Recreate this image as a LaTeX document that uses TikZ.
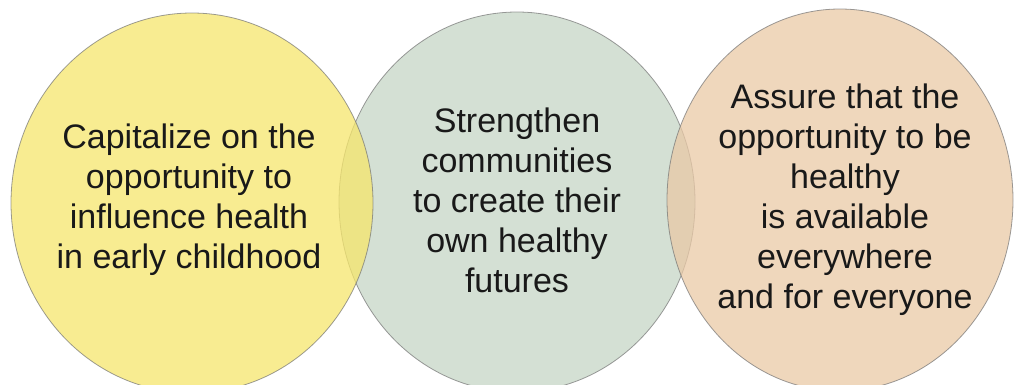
\documentclass[tikz,border=0pt]{standalone}
\usepackage{fontspec}
\setmainfont{Liberation Sans}
\usetikzlibrary{shapes.geometric}

\definecolor{earlyfill}{RGB}{246,230,108}
\definecolor{commfill}{RGB}{197,213,197}
\definecolor{equityfill}{RGB}{233,201,166}

\tikzset{
  goal/.style={ellipse, draw=black!55, draw opacity=0.7, line width=0.8pt,
    fill opacity=0.75, inner sep=0pt, outer sep=0pt},
  goaltext/.style={text=black!90, align=center, inner sep=0pt,
    font=\fontsize{34}{40}\selectfont},
}

\begin{document}
\begin{tikzpicture}[x=1pt, y=-1pt]
    \useasboundingbox (0,0) rectangle (1016,385);
    % the three goals, middle one first so the others lie over it
    \node[goal, fill=commfill, minimum width=356, minimum height=380] (comm) at (517,202) {};
    \node[goal, fill=earlyfill, minimum width=362, minimum height=380] (early) at (192,203) {};
    \node[goal, fill=equityfill, minimum width=346, minimum height=382] (equity) at (840,200) {};
    % their texts
    \node[goaltext] (commtext) at (517,200)
      {Strengthen\\communities\\to create their\\own healthy\\futures};
    \node[goaltext] (earlytext) at (189,200)
      {Capitalize on the\\opportunity to\\influence health\\in early childhood};
    \node[goaltext] (equitytext) at (845,200)
      {Assure that the\\opportunity to be\\healthy\\is available\\everywhere\\and for everyone};
  \end{tikzpicture}
\end{document}
